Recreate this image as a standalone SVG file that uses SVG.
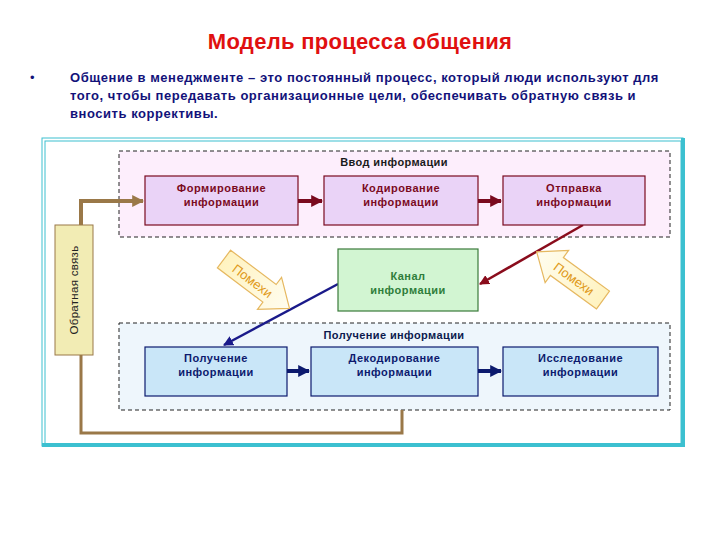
<svg xmlns="http://www.w3.org/2000/svg" width="720" height="540" viewBox="0 0 720 540">
<defs>
<style>
text{font-family:"Liberation Sans",Arial,sans-serif;font-weight:bold}
.t-red{fill:#7a0a1e;font-size:11px;letter-spacing:0.5px}
.t-blue{fill:#0c1a6e;font-size:11px;letter-spacing:0.5px}
.t-green{fill:#2e7d3a;font-size:11px;letter-spacing:0.5px}
.boxP{fill:#ead3f7;stroke:#7a0a1e;stroke-width:1.2}
.boxB{fill:#c9e6f8;stroke:#0c1a6e;stroke-width:1.2}
.region{stroke:#222;stroke-width:1;stroke-dasharray:4,3}
.pom{fill:url(#pomGrad);stroke:#e6b860;stroke-width:1.2}
.pomT{fill:#e09a20;font-size:13px;font-weight:normal}
</style>
<linearGradient id="pomGrad" x1="0" y1="0" x2="1" y2="0">
<stop offset="0" stop-color="#fff3c0"/>
<stop offset="1" stop-color="#fffdf0"/>
</linearGradient>
<marker id="mRed" viewBox="0 0 10 10" refX="9" refY="5" markerWidth="3" markerHeight="3" orient="auto"><path d="M0,0L10,5L0,10z" fill="#7a0a1e"/></marker>
<marker id="mBlue" viewBox="0 0 10 10" refX="9" refY="5" markerWidth="3" markerHeight="3" orient="auto"><path d="M0,0L10,5L0,10z" fill="#0c1a6e"/></marker>
<marker id="mBrown" viewBox="0 0 10 10" refX="9" refY="5" markerWidth="3" markerHeight="3" orient="auto"><path d="M0,0L10,5L0,10z" fill="#9a7848"/></marker>
<marker id="mRedS" viewBox="0 0 10 10" refX="9" refY="5" markerWidth="4" markerHeight="4" orient="auto"><path d="M0,0L10,5L0,10z" fill="#8a0c1c"/></marker>
<marker id="mBlueS" viewBox="0 0 10 10" refX="9" refY="5" markerWidth="4" markerHeight="4" orient="auto"><path d="M0,0L10,5L0,10z" fill="#1a1a8a"/></marker>
</defs>
<rect width="720" height="540" fill="#fff"/>

<g id="title">
<text x="360" y="49" text-anchor="middle" style="font-size:22px;fill:#e01010;letter-spacing:0.3px">Модель процесса общения</text>
</g>
<g id="body" style="font-size:13px;fill:#12127a;letter-spacing:0.55px">
<text x="30" y="82" style="font-weight:normal;fill:#12127a">•</text>
<text x="70" y="82" fill="#12127a">Общение  в менеджменте – это постоянный процесс, который люди используют для</text>
<text x="70" y="100" fill="#12127a">того, чтобы передавать организационные цели, обеспечивать обратную связь и</text>
<text x="70" y="118" fill="#12127a">вносить коррективы.</text>
</g>

<g id="frame" fill="none">
<rect x="42" y="138" width="641" height="308" fill="#fff" stroke="#3cc0d0" stroke-width="1"/>
<rect x="45" y="141" width="636" height="303" stroke="#3cc0d0" stroke-width="1"/>
<line x1="683" y1="138" x2="683" y2="446" stroke="#3cc0d0" stroke-width="4"/>
<line x1="42" y1="445" x2="685" y2="445" stroke="#3cc0d0" stroke-width="4"/>
</g>

<g id="region-input">
<rect class="region" x="119" y="151" width="551" height="86" fill="#fdeefc"/>
<text x="394" y="166" text-anchor="middle" style="font-size:11px;fill:#1a1a1a;letter-spacing:0.4px">Ввод информации</text>
</g>
<g id="region-output">
<rect class="region" x="119" y="323" width="551" height="87" fill="#eef6fc"/>
<text x="394" y="339" text-anchor="middle" style="font-size:11px;fill:#0c1a4e;letter-spacing:0.4px">Получение информации</text>
</g>

<g id="connectors" fill="none">
<path d="M81,225 V201 H143" stroke="#9a7848" stroke-width="4" marker-end="url(#mBrown)"/>
<path d="M81,355 V433 H402 V410" stroke="#9a7848" stroke-width="3"/>
<line x1="298" y1="201" x2="322" y2="201" stroke="#7a0a1e" stroke-width="4" marker-end="url(#mRed)"/>
<line x1="478" y1="201" x2="501" y2="201" stroke="#7a0a1e" stroke-width="4" marker-end="url(#mRed)"/>
<line x1="287" y1="371" x2="309" y2="371" stroke="#0c1a6e" stroke-width="4" marker-end="url(#mBlue)"/>
<line x1="478" y1="371" x2="501" y2="371" stroke="#0c1a6e" stroke-width="4" marker-end="url(#mBlue)"/>
<line x1="583" y1="225" x2="480" y2="284" stroke="#8a0c1c" stroke-width="2.5" marker-end="url(#mRedS)"/>
<line x1="338" y1="284" x2="224" y2="345" stroke="#1a1a8a" stroke-width="2.5" marker-end="url(#mBlueS)"/>
</g>

<g id="feedback">
<rect x="55" y="225" width="38" height="130" fill="#f2ecb4" stroke="#9a7848" stroke-width="1"/>
<text transform="translate(78,290) rotate(-90)" text-anchor="middle" style="font-size:11.5px;font-weight:normal;fill:#222;letter-spacing:0.3px">Обратная связь</text>
</g>

<g id="n-form">
<rect class="boxP" x="145" y="176" width="153" height="49"/>
<text class="t-red" x="221.5" y="192" text-anchor="middle">Формирование</text>
<text class="t-red" x="221.5" y="206" text-anchor="middle">информации</text>
</g>
<g id="n-code">
<rect class="boxP" x="324" y="176" width="154" height="49"/>
<text class="t-red" x="401" y="192" text-anchor="middle">Кодирование</text>
<text class="t-red" x="401" y="206" text-anchor="middle">информации</text>
</g>
<g id="n-send">
<rect class="boxP" x="503" y="176" width="142" height="49"/>
<text class="t-red" x="574" y="192" text-anchor="middle">Отправка</text>
<text class="t-red" x="574" y="206" text-anchor="middle">информации</text>
</g>
<g id="n-channel">
<rect x="338" y="249" width="140" height="62" fill="#d2f5d2" stroke="#3a7a3a" stroke-width="1.2"/>
<text class="t-green" x="408" y="280" text-anchor="middle">Канал</text>
<text class="t-green" x="408" y="294" text-anchor="middle">информации</text>
</g>
<g id="n-recv">
<rect class="boxB" x="145" y="347" width="142" height="49"/>
<text class="t-blue" x="216" y="362" text-anchor="middle">Получение</text>
<text class="t-blue" x="216" y="376" text-anchor="middle">информации</text>
</g>
<g id="n-decode">
<rect class="boxB" x="311" y="347" width="167" height="49"/>
<text class="t-blue" x="394.5" y="362" text-anchor="middle">Декодирование</text>
<text class="t-blue" x="394.5" y="376" text-anchor="middle">информации</text>
</g>
<g id="n-research">
<rect class="boxB" x="503" y="347" width="155" height="49"/>
<text class="t-blue" x="580.5" y="362" text-anchor="middle">Исследование</text>
<text class="t-blue" x="580.5" y="376" text-anchor="middle">информации</text>
</g>

<g id="noise-left" transform="translate(224,259) rotate(37)">
<path class="pom" d="M0,-11 H57 V-20 L82,0 L57,20 V11 H0 Z"/>
<text class="pomT" x="36" y="5" text-anchor="middle">Помехи</text>
</g>
<g id="noise-right" transform="translate(603,300) rotate(216)">
<path class="pom" d="M0,-11 H57 V-20 L82,0 L57,20 V11 H0 Z"/>
<text class="pomT" x="36" y="0" text-anchor="middle" dominant-baseline="central" transform="rotate(180 36 0)">Помехи</text>
</g>
</svg>
